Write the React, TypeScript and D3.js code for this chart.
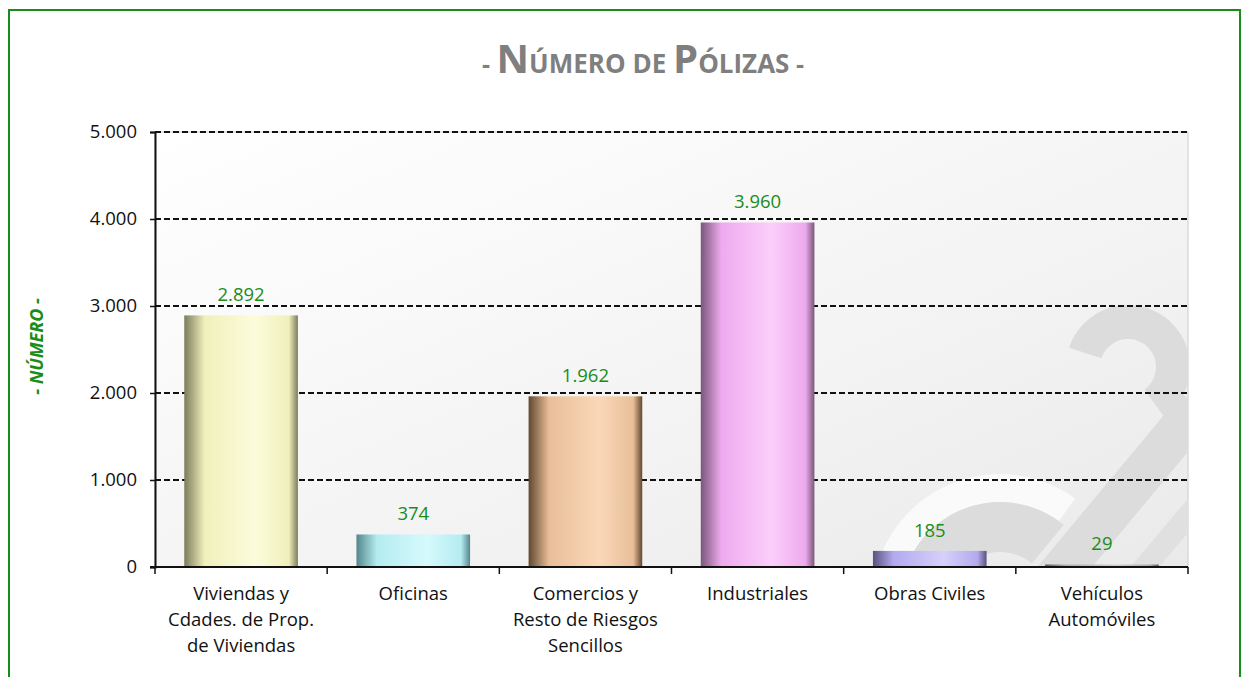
import React, { useEffect, useRef } from "react";
import * as d3 from "d3";

const categories = [
  ["Viviendas y", "Cdades. de Prop.", "de Viviendas"],
  ["Oficinas"],
  ["Comercios y", "Resto de Riesgos", "Sencillos"],
  ["Industriales"],
  ["Obras Civiles"],
  ["Vehículos", "Automóviles"],
];
const values = [2892, 374, 1962, 3960, 185, 29];
const yTicks = [0, 1000, 2000, 3000, 4000, 5000];
// base, dark edge, highlight
const barColors = [
  ["#f0f0bc", "#7c7c5c", "#fcfcdc"],
  ["#b4ecf0", "#54868c", "#d6fafc"],
  ["#e8bf98", "#62472f", "#fad8b8"],
  ["#eeaaee", "#7a567a", "#fbcffb"],
  ["#b2aaee", "#5a5280", "#d6d0fb"],
  ["#b0b0b0", "#606060", "#d0d0d0"],
];

const es = d3.formatLocale({ decimal: ",", thousands: ".", grouping: [3], currency: ["", " €"] });
const fmt = es.format(",d");

export default function App() {
  const svgRef = useRef<SVGSVGElement>(null);

  useEffect(() => {
    if (!svgRef.current) return;
    const svg = d3.select(svgRef.current);
    svg.selectAll("*").remove();

    const W = 1241;
    const H = 677;
    const margin = { top: 132, right: 53, bottom: 110, left: 155 };
    const width = W - margin.left - margin.right;
    const height = H - margin.top - margin.bottom;
    const font = "'Open Sans', 'Noto Sans', sans-serif";

    const defs = svg.append("defs");
    const bg = defs.append("linearGradient").attr("id", "bg").attr("x1", 0).attr("x2", 1).attr("y1", 0).attr("y2", 1);
    bg.append("stop").attr("offset", "0%").attr("stop-color", "#ffffff");
    bg.append("stop").attr("offset", "50%").attr("stop-color", "#f5f5f5");
    bg.append("stop").attr("offset", "100%").attr("stop-color", "#eaeaea");

    barColors.forEach((c, i) => {
      const g = defs.append("linearGradient").attr("id", `bar${i}`).attr("x1", 0).attr("x2", 1).attr("y1", 0).attr("y2", 0);
      g.append("stop").attr("offset", "0%").attr("stop-color", c[1]);
      g.append("stop").attr("offset", "18%").attr("stop-color", c[0]);
      g.append("stop").attr("offset", "62%").attr("stop-color", c[2]);
      g.append("stop").attr("offset", "92%").attr("stop-color", c[0]);
      g.append("stop").attr("offset", "100%").attr("stop-color", c[1]);
    });
    defs.append("clipPath").attr("id", "plotclip")
      .append("rect").attr("width", width).attr("height", height);

    // outer frame
    svg.append("rect")
      .attr("x", 9).attr("y", 10).attr("width", 1231).attr("height", 700)
      .attr("fill", "#ffffff").attr("stroke", "#1a8c1a").attr("stroke-width", 2);

    // title
    const title = svg.append("text")
      .attr("x", 643).attr("y", 73)
      .attr("text-anchor", "middle")
      .attr("fill", "#7f7f7f")
      .attr("font-family", font)
      .attr("font-weight", "bold");
    [["- ", 25], ["N", 40], ["ÚMERO DE ", 26], ["P", 40], ["ÓLIZAS", 26], [" -", 25]].forEach(([t, s]) => {
      title.append("tspan").attr("font-size", s as number).text(t as string);
    });

    const g = svg.append("g").attr("transform", `translate(${margin.left},${margin.top})`);

    const x = d3.scaleBand<number>()
      .domain(d3.range(values.length))
      .range([0, width])
      .paddingInner(0.34)
      .paddingOuter(0.17);
    const y = d3.scaleLinear().domain([0, 5000]).range([height, 0]);

    // plot background + faint watermark
    g.append("rect").attr("width", width).attr("height", height).attr("fill", "url(#bg)")
      .attr("stroke", "#cccccc").attr("stroke-width", 1);
    const wm = g.append("g").attr("clip-path", "url(#plotclip)").attr("fill", "#dcdcdc").attr("stroke", "none");
    const arc = d3.arc();
    wm.append("path")
      .attr("transform", `translate(${width - 188},${height + 35})`)
      .attr("d", arc({ innerRadius: 100, outerRadius: 128, startAngle: -Math.PI * 0.5, endAngle: Math.PI * 0.2 } as any) as string)
      .attr("fill", "#fafafa");
    wm.append("path")
      .attr("transform", `translate(${width - 188},${height + 35})`)
      .attr("d", arc({ innerRadius: 50, outerRadius: 100, startAngle: -Math.PI * 0.5, endAngle: Math.PI * 0.22 } as any) as string);
    wm.append("path")
      .attr("transform", `translate(${width - 60},${height - 200})`)
      .attr("d", arc({ innerRadius: 28, outerRadius: 62, startAngle: -Math.PI * 0.4, endAngle: Math.PI * 0.8 } as any) as string);
    wm.append("line")
      .attr("x1", width - 140).attr("y1", height + 20).attr("x2", width + 10).attr("y2", height - 160)
      .attr("stroke-width", 42).attr("stroke", "#dcdcdc");
    wm.append("line")
      .attr("x1", width - 60).attr("y1", height + 20).attr("x2", width + 20).attr("y2", height - 75)
      .attr("stroke-width", 22).attr("stroke", "#e0e0e0");

    // grid
    g.append("g").selectAll("line").data(yTicks.filter((d) => d > 0)).join("line")
      .attr("x1", 0).attr("x2", width)
      .attr("y1", (d) => y(d)).attr("y2", (d) => y(d))
      .attr("stroke", "#111").attr("stroke-width", 2).attr("stroke-dasharray", "6 3");

    // bars
    g.append("g").selectAll("rect").data(values).join("rect")
      .attr("x", (_, i) => x(i)!)
      .attr("width", x.bandwidth())
      .attr("y", (d) => y(d))
      .attr("height", (d) => height - y(d))
      .attr("fill", (_, i) => `url(#bar${i})`);

    // value labels
    g.append("g").selectAll("text").data(values).join("text")
      .attr("x", (_, i) => x(i)! + x.bandwidth() / 2)
      .attr("y", (d) => y(d) - 14)
      .attr("text-anchor", "middle")
      .attr("font-family", font).attr("font-size", 18.5)
      .attr("fill", "#1a8c1a")
      .text((d) => fmt(d));

    // y axis
    const yAxis = g.append("g")
      .call(d3.axisLeft(y).tickValues(yTicks).tickFormat((d) => fmt(d as number)).tickSize(5).tickPadding(13));
    yAxis.select(".domain").attr("stroke", "#111").attr("stroke-width", 2);
    yAxis.selectAll(".tick line").attr("stroke", "#111").attr("stroke-width", 1.5);
    yAxis.selectAll("text").attr("font-family", font).attr("font-size", 18.5).attr("fill", "#111");

    // x axis
    const xa = g.append("g").attr("transform", `translate(0,${height})`);
    xa.append("line").attr("x1", -5).attr("x2", width).attr("stroke", "#111").attr("stroke-width", 2);
    const step = x.step();
    xa.selectAll("line.tk").data(d3.range(values.length + 1)).join("line")
      .attr("class", "tk")
      .attr("x1", (i) => i * step).attr("x2", (i) => i * step)
      .attr("y1", 0).attr("y2", 7)
      .attr("stroke", "#111").attr("stroke-width", 1.5);
    xa.selectAll("text.cat").data(categories).join("text")
      .attr("class", "cat")
      .attr("text-anchor", "middle")
      .attr("font-family", font).attr("font-size", 18.5).attr("fill", "#111")
      .each(function (lines, i) {
        const t = d3.select(this);
        lines.forEach((ln, k) => {
          t.append("tspan")
            .attr("x", x(i)! + x.bandwidth() / 2)
            .attr("y", 33 + k * 26)
            .text(ln);
        });
      });

    // y label
    svg.append("text")
      .attr("transform", `translate(43,${margin.top + height / 2 - 3}) rotate(-90)`)
      .attr("text-anchor", "middle")
      .attr("font-family", font).attr("font-size", 18)
      .attr("font-weight", "bold").attr("font-style", "italic")
      .attr("fill", "#1a8c1a")
      .text("- NÚMERO -");
  }, []);

  return (
    <svg
      ref={svgRef}
      width={1241}
      height={677}
      style={{ position: "absolute", left: 0, top: 0, display: "block" }}
    />
  );
}
